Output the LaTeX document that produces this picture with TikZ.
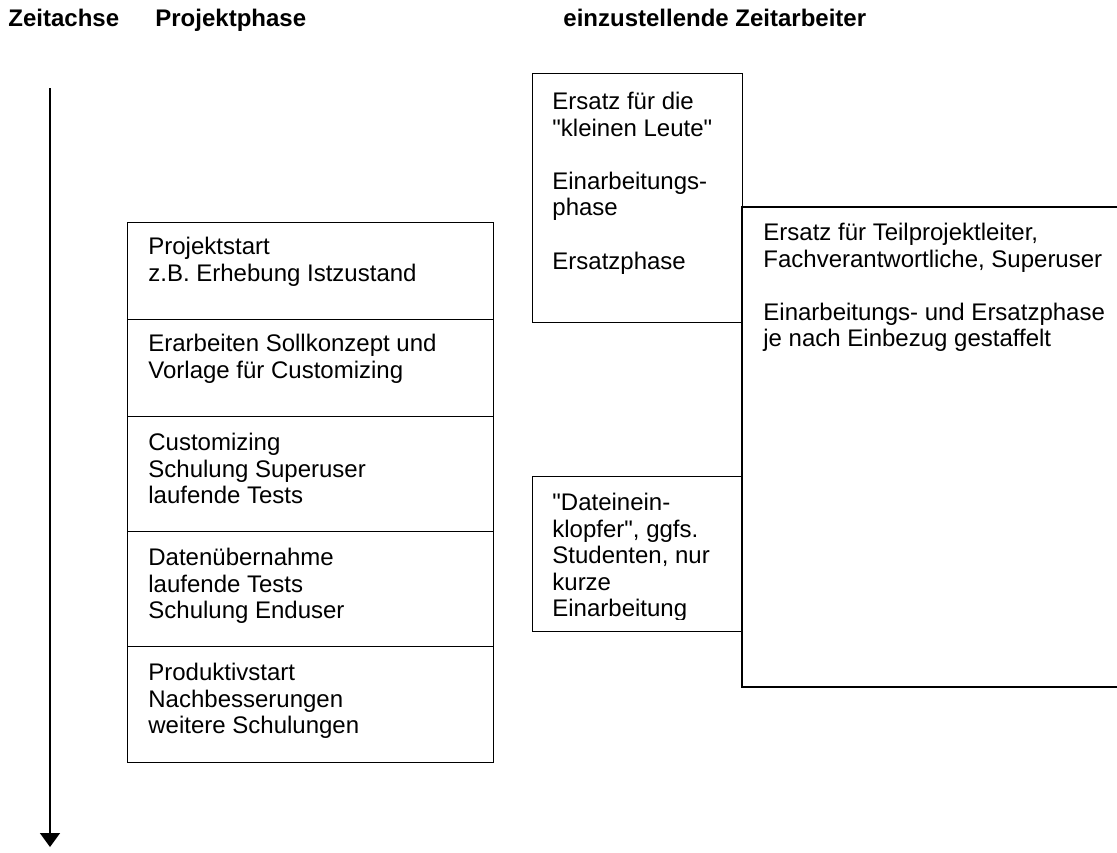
\documentclass[tikz,border=0pt]{standalone}
\usepackage{fontspec}
\setmainfont{Liberation Sans}
\usetikzlibrary{arrows.meta}
\newcommand{\firstline}{\rule{0pt}{10pt}}
\begin{document}
\begin{tikzpicture}[x=0.5pt,y=-0.5pt,
  frame/.style={draw, line width=0.7pt, anchor=north west, inner sep=0pt},
  phasebox/.style={frame, minimum width=183pt},
  txt/.style={anchor=north west, align=left, inner sep=0pt, font=\fontsize{12}{13.3}\selectfont},
  head/.style={anchor=base west, inner sep=0pt, font=\fontsize{12}{13.3}\selectfont\bfseries}]
\useasboundingbox (0,0) rectangle (1117,852);
% headers
\node[head] (h1) at (8,26) {Zeitachse};
\node[head] (h2) at (155,26) {Projektphase};
\node[head] (h3) at (563,26) {einzustellende Zeitarbeiter};
% time axis
\coordinate (axtop) at (50,88);
\coordinate (axend) at (50,847);
\draw[line width=0.75pt, -{Triangle[width=10pt,length=7pt]}] (axtop) -- (axend);
% project phases
\node[phasebox, minimum height=48.5pt] (p1) at (127,222) {};
\node[phasebox, minimum height=48.5pt] (p2) at (127,319) {};
\node[phasebox, minimum height=57.5pt] (p3) at (127,416) {};
\node[phasebox, minimum height=57.5pt] (p4) at (127,531) {};
\node[phasebox, minimum height=58pt] (p5) at (127,646) {};
\node[txt] (p1t) at (148,234) {\firstline Projektstart\\z.B. Erhebung Istzustand};
\node[txt] (p2t) at (148,331) {\firstline Erarbeiten Sollkonzept und\\Vorlage für Customizing};
\node[txt] (p3t) at (148,430) {\firstline Customizing\\Schulung Superuser\\laufende Tests};
\node[txt] (p4t) at (148,545) {\firstline Datenübernahme\\laufende Tests\\Schulung Enduser};
\node[txt] (p5t) at (148,660) {\firstline Produktivstart\\Nachbesserungen\\weitere Schulungen};
% temp workers
\node[frame, minimum width=105pt, minimum height=124.5pt] (ra) at (532,73) {};
\node[txt] (rat) at (552,89) {\firstline Ersatz für die\\\textquotedbl kleinen Leute\textquotedbl\\[13.3pt]Einarbeitungs-\\phase\\[13.3pt]Ersatzphase};
\coordinate (bbtr) at (1125,207);
\coordinate (bbtl) at (742,207);
\coordinate (bbbl) at (742,687);
\coordinate (bbbr) at (1125,687);
\draw[line width=0.7pt] (bbtr) -- (bbtl) -- (bbbl) -- (bbbr);
\node[txt] (rbt) at (763,220) {\firstline Ersatz für Teilprojektleiter,\\Fachverantwortliche, Superuser\\[13.3pt]Einarbeitungs- und Ersatzphase\\je nach Einbezug gestaffelt};
\node[frame, minimum width=105pt, minimum height=77.5pt] (rc) at (532,476) {};
\begin{scope}
\clip (532,476) rectangle (742,619);
\node[txt] (rct) at (552,490) {\firstline \textquotedbl Dateinein-\\klopfer\textquotedbl, ggfs.\\Studenten, nur\\kurze\\Einarbeitung};
\end{scope}
\end{tikzpicture}
\end{document}
